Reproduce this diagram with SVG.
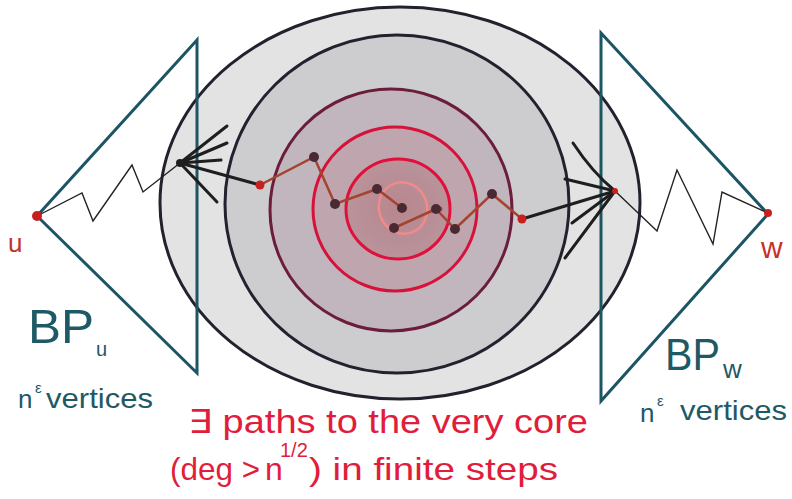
<svg xmlns="http://www.w3.org/2000/svg" width="792" height="499" viewBox="0 0 792 499">
<defs>
<radialGradient id="coreGrad" cx="0.5" cy="0.5" r="0.5">
<stop offset="0" stop-color="#b8868e"/>
<stop offset="1" stop-color="#b9939b"/>
</radialGradient>
</defs>
<style>
.ring-dark{stroke:#24212f;stroke-width:3;}
.teal{fill:none;stroke:#1c5564;stroke-width:3;stroke-linejoin:miter;}
.thin{fill:none;stroke:#222;stroke-width:1.4;stroke-linejoin:miter;}
.fan{fill:none;stroke:#1e1e1e;stroke-width:3;stroke-linecap:round;}
.brown{fill:none;stroke:#a4432f;stroke-width:2.5;stroke-linecap:round;}
.ddot{fill:#4a2a32;}
.rdot{fill:#c8201e;}
.tl{font-family:"Liberation Sans","DejaVu Sans",sans-serif;fill:#1e5966;}
.rl{font-family:"Liberation Sans","DejaVu Sans",sans-serif;fill:#e01e3c;}
.lbl{font-family:"Liberation Sans","DejaVu Sans",sans-serif;fill:#c8302a;}
</style>
<rect width="792" height="499" fill="#ffffff"/>
<g id="core">
<ellipse cx="400" cy="203" rx="240" ry="196" fill="#e3e3e4" class="ring-dark"/>
<ellipse cx="397" cy="204" rx="172" ry="169" fill="#cdcdd0" class="ring-dark"/>
<ellipse cx="391" cy="210" rx="121" ry="121" fill="#c1b6be" stroke="#6c1d3b" stroke-width="3"/>
<ellipse cx="395" cy="209" rx="82" ry="82" fill="#bea5ae" stroke="#d6113a" stroke-width="3"/>
<ellipse cx="398" cy="209" rx="52" ry="50" fill="url(#coreGrad)" stroke="#e0103a" stroke-width="3"/>
<ellipse cx="403" cy="208" rx="24" ry="26" transform="rotate(-20 403 208)" fill="none" stroke="#f28a8a" stroke-width="2.5"/>
</g>
<g id="bp-u">
<polygon points="197,40 37,216 197,373" class="teal"/>
</g>
<g id="bp-w">
<polygon points="601,33 768,214 601,401" class="teal"/>
</g>
<g id="connectors">
<polyline points="37,216 82,193 93,221 132,165 143,192 180,163" class="thin"/>
<line x1="180" y1="163" x2="227" y2="126" class="fan"/>
<line x1="180" y1="163" x2="227" y2="143" class="fan"/>
<line x1="180" y1="163" x2="221" y2="160" class="fan"/>
<line x1="180" y1="163" x2="217" y2="202" class="fan"/>
<line x1="180" y1="163" x2="260" y2="185" class="fan"/>
<polyline points="260,185 314,157 335,204 377,189 402,208" class="brown"/>
<path d="M394,228 L436,209 Q442,206 441,210 M436,209 L455,229 L492,194 L522,219" class="brown"/>
<line x1="522" y1="219" x2="615" y2="191" class="fan"/>
<path d="M573,143 Q592,172 615,191" class="fan"/>
<line x1="565" y1="179" x2="615" y2="191" class="fan"/>
<line x1="572" y1="223" x2="615" y2="191" class="fan"/>
<line x1="565" y1="258" x2="615" y2="191" class="fan"/>
<polyline points="615,191 657,231 677,170 713,244 722,192 768,213" class="thin"/>
</g>
<g id="node-u">
<circle cx="37" cy="216" r="5" class="rdot"/>
<text x="8" y="252" font-size="26" class="lbl">u</text>
</g>
<g id="node-w">
<circle cx="768" cy="213" r="4" class="rdot"/>
<text x="761" y="258" font-size="30" class="lbl">w</text>
</g>
<g id="hubs">
<circle cx="180" cy="163" r="4" fill="#1e1e1e"/>
<circle cx="615" cy="191" r="3" class="rdot"/>
<circle cx="260" cy="185" r="4.5" class="rdot"/>
<circle cx="522" cy="219" r="4.5" class="rdot"/>
<circle cx="314" cy="157" r="5" class="ddot"/>
<circle cx="335" cy="204" r="5" class="ddot"/>
<circle cx="377" cy="189" r="5" class="ddot"/>
<circle cx="402" cy="208" r="5" class="ddot"/>
<circle cx="394" cy="228" r="5" class="ddot"/>
<circle cx="436" cy="209" r="5" class="ddot"/>
<circle cx="455" cy="229" r="5" class="ddot"/>
<circle cx="492" cy="194" r="5" class="ddot"/>
</g>
<g id="label-bp-u">
<text x="28" y="343" font-size="48" class="tl" textLength="66" lengthAdjust="spacingAndGlyphs">BP</text>
<text x="96" y="356" font-size="20" class="tl">u</text>
<text x="18" y="408" font-size="26" class="tl">n</text>
<text x="35" y="393" font-size="15" class="tl">ε</text>
<text x="46" y="408" font-size="28" class="tl" textLength="107" lengthAdjust="spacingAndGlyphs">vertices</text>
</g>
<g id="label-bp-w">
<text x="665" y="370" font-size="45" class="tl" textLength="55" lengthAdjust="spacingAndGlyphs">BP</text>
<text x="723" y="378" font-size="26" class="tl">w</text>
<text x="640" y="422" font-size="26" class="tl">n</text>
<text x="657" y="406" font-size="15" class="tl">ε</text>
<text x="680" y="420" font-size="28" class="tl" textLength="107" lengthAdjust="spacingAndGlyphs">vertices</text>
</g>
<g id="label-core">
<text x="188" y="433" font-size="33" class="rl" textLength="400" lengthAdjust="spacingAndGlyphs">∃ paths to the very core</text>
<text x="170" y="480" font-size="32" class="rl" textLength="90" lengthAdjust="spacingAndGlyphs">(deg &gt;</text>
<text x="265" y="480" font-size="32" class="rl">n</text>
<text x="280" y="457" font-size="20" class="rl">1/2</text>
<text x="309" y="480" font-size="32" class="rl" textLength="249" lengthAdjust="spacingAndGlyphs">) in finite steps</text>
</g>
</svg>
